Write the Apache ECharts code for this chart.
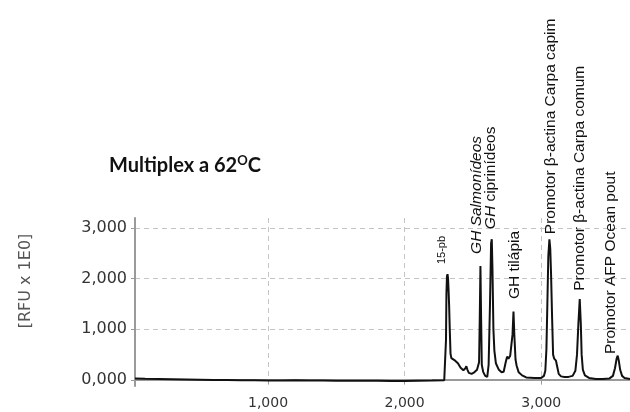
<!DOCTYPE html>
<html>
<head>
<meta charset="utf-8">
<title>Multiplex a 62ºC</title>
<script src="https://cdn.jsdelivr.net/npm/echarts@6/dist/echarts.min.js"></script>
<style>
  html, body { margin: 0; padding: 0; background: #fff; }
  #chart { width: 630px; height: 412px; }
</style>
</head>
<body>
<div id="chart"></div>
<script>
// electropherogram trace (size, RFU)
const traceX = [26, 100, 200, 300, 400, 500, 600, 700, 800, 900, 1000, 1100, 1200, 1300, 1400, 1500, 1600, 1700, 1800, 1900, 2000, 2100, 2200, 2290,
  2300, 2303, 2306, 2310, 2314, 2318, 2322, 2326, 2331, 2336, 2342, 2355, 2370, 2390, 2410, 2430, 2445, 2452, 2460, 2470, 2490, 2510, 2530, 2545,
  2550, 2555, 2560, 2565, 2575, 2590, 2605, 2615, 2625, 2633, 2638, 2643, 2650, 2657, 2668, 2690, 2710, 2725, 2740, 2750, 2760, 2773, 2782,
  2790, 2797, 2803, 2812, 2820, 2835, 2860, 2890, 2950, 3000, 3020, 3030, 3038, 3045, 3052, 3060, 3066, 3072, 3080, 3087, 3095, 3108, 3118,
  3128, 3145, 3170, 3200, 3230, 3250, 3262, 3272, 3282, 3290, 3296, 3305, 3320, 3350, 3400, 3450, 3500, 3525, 3540, 3552, 3560, 3568, 3578,
  3592, 3610, 3650]
const traceY = [30, 25, 20, 15, 10, 5, 0, 0, -5, -5, -10, -10, -5, -10, -10, -15, -15, -15, -15, -20, -20, -15, -10, -5,
  0, 800, 1700, 2050, 2090, 2000, 1750, 1450, 950, 520, 430, 400, 380, 330, 240, 190, 230, 270, 200, 140, 120, 150, 200, 350,
  1200, 2250, 1200, 300, 160, 80, 60, 300, 1500, 2700, 2780, 2200, 1000, 580, 330, 200, 150, 160, 350, 460, 420, 480, 450,
  900, 1350, 900, 400, 280, 150, 90, 50, 40, 40, 80, 180, 600, 1500, 2450, 2780, 2600, 2100, 1200, 500, 420, 380, 250,
  120, 70, 60, 60, 80, 180, 500, 1100, 1600, 1100, 500, 200, 90, 40, 20, 20, 30, 80, 230, 420, 480, 380, 200,
  80, 40, 20]

const xTickValues = [1000, 2000, 3000]
const xTickLabels = ['1,000', '2,000', '3,000']
const yTickValues = [0, 1000, 2000, 3000]
const yTickLabels = ['0,000', '1,000', '2,000', '3,000']

// peak annotations: text, position along the size axis, RFU level where the text starts
const peakLabels = ['15-pb', '{i|GH Salmonídeos}', '{i|GH} ciprinídeos', 'GH tilápia',
  'Promotor β-actina Carpa capim', 'Promotor β-actina Carpa comum', 'Promotor AFP Ocean pout']
const peakX = [2275, 2524, 2627, 2803, 3066, 3279, 3506]
const peakLabelBase = [2290, 2490, 2980, 1600, 2880, 1760, 510]

const chart = echarts.init(document.getElementById('chart'))

const labelFont = 'Liberation Sans'
const traceData = traceX.map((x, i) => [x, traceY[i]])
const peakMarks = peakLabels.map((t, i) => ({
  name: t,
  coord: [peakX[i], peakLabelBase[i]],
  label: i === 0 ? { fontSize: 11 } : {}
}))

const option = {
  animation: false,
  title: {
    text: '{a|Multiplex a 62}{sup|O}{a|C}',
    left: 104,
    top: 149,
    textStyle: {
      rich: {
        a: { fontFamily: 'Lato', fontWeight: 'bold', fontSize: 20, color: '#111' },
        sup: { fontFamily: 'Lato', fontWeight: 'bold', fontSize: 13, color: '#111', padding: [0, 0, 11, 0] }
      }
    }
  },
  graphic: [
    {
      type: 'text',
      x: 26,
      y: 281,
      rotation: Math.PI / 2,
      style: {
        text: '[RFU x 1E0]',
        font: '16px "DejaVu Sans"',
        fill: '#555',
        align: 'center',
        verticalAlign: 'middle',
        textAlign: 'center',
        textVerticalAlign: 'middle'
      }
    }
  ],
  grid: {
    left: 135,
    right: 0,
    top: 218,
    bottom: 26,
    outerBoundsMode: 'none'
  },
  xAxis: {
    type: 'value',
    min: 26,
    max: 3650,
    axisLine: { show: true, lineStyle: { color: '#9a9a9a', width: 2 } },
    axisTick: { show: true, customValues: xTickValues, length: 4, lineStyle: { color: '#9a9a9a' } },
    axisLabel: {
      customValues: xTickValues,
      formatter: (v) => xTickLabels[xTickValues.indexOf(v)],
      fontFamily: 'DejaVu Sans',
      fontSize: 14,
      color: '#333',
      margin: 10
    },
    splitLine: { show: true, lineStyle: { type: [5, 4], color: '#c4c4c4' } }
  },
  yAxis: {
    type: 'value',
    min: -120,
    max: 3200,
    axisLine: { show: true, lineStyle: { color: '#9a9a9a', width: 2 } },
    axisTick: { show: true, customValues: yTickValues, length: 4, lineStyle: { color: '#9a9a9a' } },
    axisLabel: {
      customValues: yTickValues,
      formatter: (v) => yTickLabels[yTickValues.indexOf(v)],
      fontFamily: 'DejaVu Sans',
      fontSize: 16,
      color: '#333',
      margin: 8
    },
    splitLine: { show: true, lineStyle: { type: [5, 4], color: '#c4c4c4' } }
  },
  series: [
    {
      name: 'RFU',
      type: 'line',
      data: traceData,
      showSymbol: false,
      symbol: 'none',
      lineStyle: { color: '#111', width: 2 },
      markPoint: {
        symbol: 'circle',
        symbolSize: 0,
        silent: true,
        label: {
          show: true,
          formatter: '{b}',
          position: 'inside',
          align: 'left',
          verticalAlign: 'middle',
          rotate: 90,
          fontFamily: labelFont,
          fontSize: 15.5,
          color: '#111',
          rich: {
            i: { fontFamily: labelFont, fontSize: 15.5, fontStyle: 'italic', color: '#111' }
          }
        },
        data: peakMarks
      }
    }
  ]
}

chart.setOption(option)
</script>
</body>
</html>
